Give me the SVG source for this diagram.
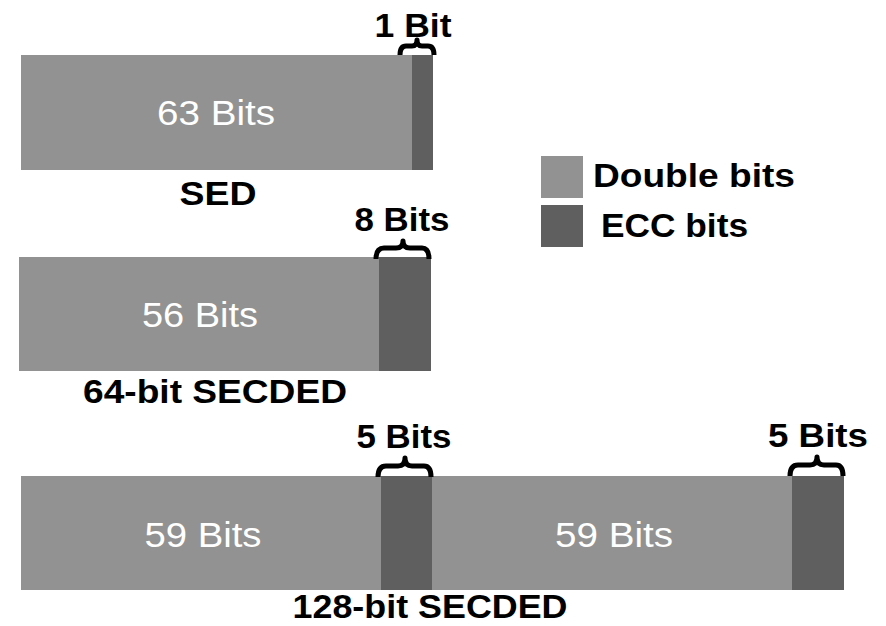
<svg xmlns="http://www.w3.org/2000/svg" width="886" height="626" viewBox="0 0 886 626">
  <style>
    .data { fill: #929292; }
    .ecc { fill: #5f5f5f; }
    .inner { font-family: "Liberation Sans", Arial, sans-serif; font-size: 35px; fill: #ffffff; text-anchor: middle; }
    .lbl { font-family: "Liberation Sans", Arial, sans-serif; font-size: 33px; font-weight: bold; fill: #000000; text-anchor: middle; }
    .leg { font-family: "Liberation Sans", Arial, sans-serif; font-size: 33px; font-weight: bold; fill: #000000; }
    .brace { fill: none; stroke: #000000; stroke-width: 5; stroke-linecap: butt; stroke-linejoin: round; }
  </style>
  <rect width="886" height="626" fill="#ffffff"/>

  <!-- SED word: 63 data bits + 1 parity bit -->
  <g id="sed">
    <rect class="data" x="21" y="55" width="391" height="115"/>
    <rect class="ecc" x="412" y="55" width="21" height="115"/>
    <text class="inner" x="216" y="125" textLength="118" lengthAdjust="spacingAndGlyphs">63 Bits</text>
    <text class="lbl" x="218" y="205" textLength="77" lengthAdjust="spacingAndGlyphs">SED</text>
  </g>

  <!-- 64-bit SECDED word: 56 data bits + 8 check bits -->
  <g id="secded64">
    <rect class="data" x="19" y="257" width="360" height="114"/>
    <rect class="ecc" x="379" y="257" width="52" height="114"/>
    <text class="inner" x="200" y="327" textLength="116" lengthAdjust="spacingAndGlyphs">56 Bits</text>
    <text class="lbl" x="215" y="403" textLength="264" lengthAdjust="spacingAndGlyphs">64-bit SECDED</text>
  </g>

  <!-- 128-bit SECDED word: two 59+5 halves -->
  <g id="secded128">
    <rect class="data" x="21" y="476" width="823" height="114"/>
    <rect class="ecc" x="381" y="476" width="51" height="114"/>
    <rect class="ecc" x="792" y="476" width="52" height="114"/>
    <text class="inner" x="203" y="547" textLength="117" lengthAdjust="spacingAndGlyphs">59 Bits</text>
    <text class="inner" x="614" y="547" textLength="118" lengthAdjust="spacingAndGlyphs">59 Bits</text>
    <text class="lbl" x="430" y="618" textLength="275" lengthAdjust="spacingAndGlyphs">128-bit SECDED</text>
  </g>

  <!-- Legend -->
  <g id="legend">
    <rect class="data" x="541" y="156" width="42" height="42"/>
    <rect class="ecc" x="541" y="205" width="42" height="42"/>
    <text class="leg" x="593" y="187" textLength="202" lengthAdjust="spacingAndGlyphs">Double bits</text>
    <text class="leg" x="601" y="237" textLength="147" lengthAdjust="spacingAndGlyphs">ECC bits</text>
  </g>

  <!-- Braces marking the check-bit fields -->
  <g id="connectors">
    <path class="brace" d="M400,55 Q400,46 406,46 L412,46 Q417,46 417,40 Q417,46 422,46 L428,46 Q434,46 434,55"/>
    <path class="brace" d="M376,259 Q376,248 384,248 L396,248 Q403,248 403,241 Q403,248 410,248 L422,248 Q429,248 429,259"/>
    <path class="brace" d="M378,477 Q378,466 386,466 L398,466 Q405,466 405,458 Q405,466 412,466 L424,466 Q431,466 431,477"/>
    <path class="brace" d="M790,476 Q790,465 798,465 L810,465 Q817,465 817,457 Q817,465 824,465 L836,465 Q843,465 843,476"/>
  </g>

  <!-- Field widths above the braces -->
  <g id="widths">
    <text class="lbl" x="413" y="37" textLength="77" lengthAdjust="spacingAndGlyphs">1 Bit</text>
    <text class="lbl" x="402" y="231" textLength="95" lengthAdjust="spacingAndGlyphs">8 Bits</text>
    <text class="lbl" x="404" y="448" textLength="95" lengthAdjust="spacingAndGlyphs">5 Bits</text>
    <text class="lbl" x="818" y="447" textLength="100" lengthAdjust="spacingAndGlyphs">5 Bits</text>
  </g>
</svg>
